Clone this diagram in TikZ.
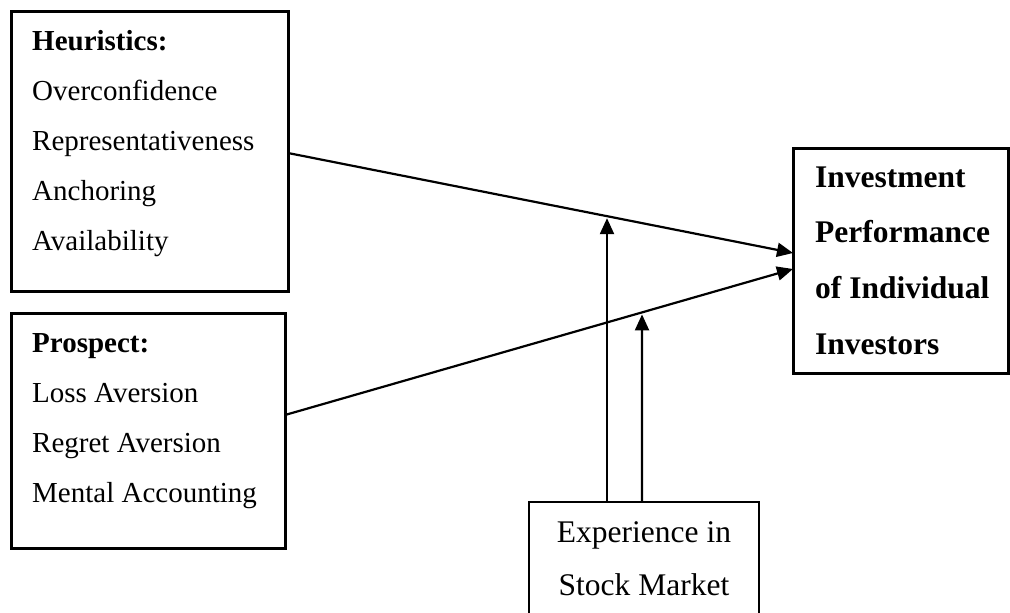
\documentclass[tikz,border=0pt]{standalone}
\usepackage{fontspec}
\setmainfont{Liberation Serif}
\usetikzlibrary{arrows.meta,calc}
\begin{document}
\begin{tikzpicture}[x=1pt,y=1pt,
  frame/.style={draw, line width=3pt, inner sep=0pt, outer sep=0pt, anchor=north west},
  thinframe/.style={draw, line width=1.5pt, inner sep=0pt, outer sep=0pt, anchor=north west},
  lft/.style={anchor=base west, inner sep=0pt, font=\fontsize{29}{34}\selectfont},
  lfb/.style={anchor=base west, inner sep=0pt, font=\fontsize{29}{34}\selectfont\bfseries},
  rtb/.style={anchor=base west, inner sep=0pt, font=\fontsize{31.5}{36}\selectfont\bfseries},
  ctr/.style={anchor=base, inner sep=0pt, font=\fontsize{31.5}{36}\selectfont},
  conn/.style={line width=2.2pt, -{Triangle[length=16pt,width=14pt]}}]
\useasboundingbox (0,0) rectangle (1010,-613);
% boxes
\node[frame, minimum width=277pt, minimum height=280pt] (heur) at (11,-11) {};
\node[frame, minimum width=274pt, minimum height=235pt] (pros) at (11,-313) {};
\node[frame, minimum width=215pt, minimum height=225pt] (inv) at (793,-148) {};
\node[thinframe, minimum width=230pt, minimum height=150pt] (exp) at (529,-502) {};
% heuristics text
\node[lfb] (h0) at (32,-50) {Heuristics:};
\node[lft] (h1) at (32,-100.5) {Overconfidence};
\node[lft] (h2) at (32,-150.5) {Representativeness};
\node[lft] (h3) at (32,-200.5) {Anchoring};
\node[lft] (h4) at (32,-250.5) {Availability};
% prospect text
\node[lfb] (p0) at (32,-352) {Prospect:};
\node[lft] (p1) at (32,-402.5) {Loss Aversion};
\node[lft] (p2) at (32,-452.5) {Regret Aversion};
\node[lft] (p3) at (32,-502.5) {Mental Accounting};
% investment text
\node[rtb] (i0) at (815,-187) {Investment};
\node[rtb] (i1) at (815,-242.5) {Performance};
\node[rtb] (i2) at (815,-298) {of Individual};
\node[rtb] (i3) at (815,-354) {Investors};
% experience text
\node[ctr] (e0) at (644,-542) {Experience in};
\node[ctr] (e1) at (644,-595) {Stock Market};
% connectors
\coordinate (hs) at ([yshift=-2pt]heur.east);
\coordinate (ps) at ([yshift=15.5pt]pros.east);
\coordinate (it1) at ([yshift=7.5pt]inv.west);
\coordinate (it2) at ([yshift=-8.5pt]inv.west);
\draw[conn] (hs) -- (it1);
\draw[conn] (ps) -- (it2);
\coordinate (es1) at ([xshift=-37pt]exp.north);
\coordinate (es2) at ([xshift=-2pt]exp.north);
\coordinate (eu1) at ([yshift=400pt]es1);
\coordinate (eu2) at ([yshift=400pt]es2);
\draw[conn] (es1) -- ([yshift=-2pt]intersection of hs--it1 and es1--eu1);
\draw[conn] (es2) -- ([yshift=-2pt]intersection of ps--it2 and es2--eu2);
\end{tikzpicture}
\end{document}
